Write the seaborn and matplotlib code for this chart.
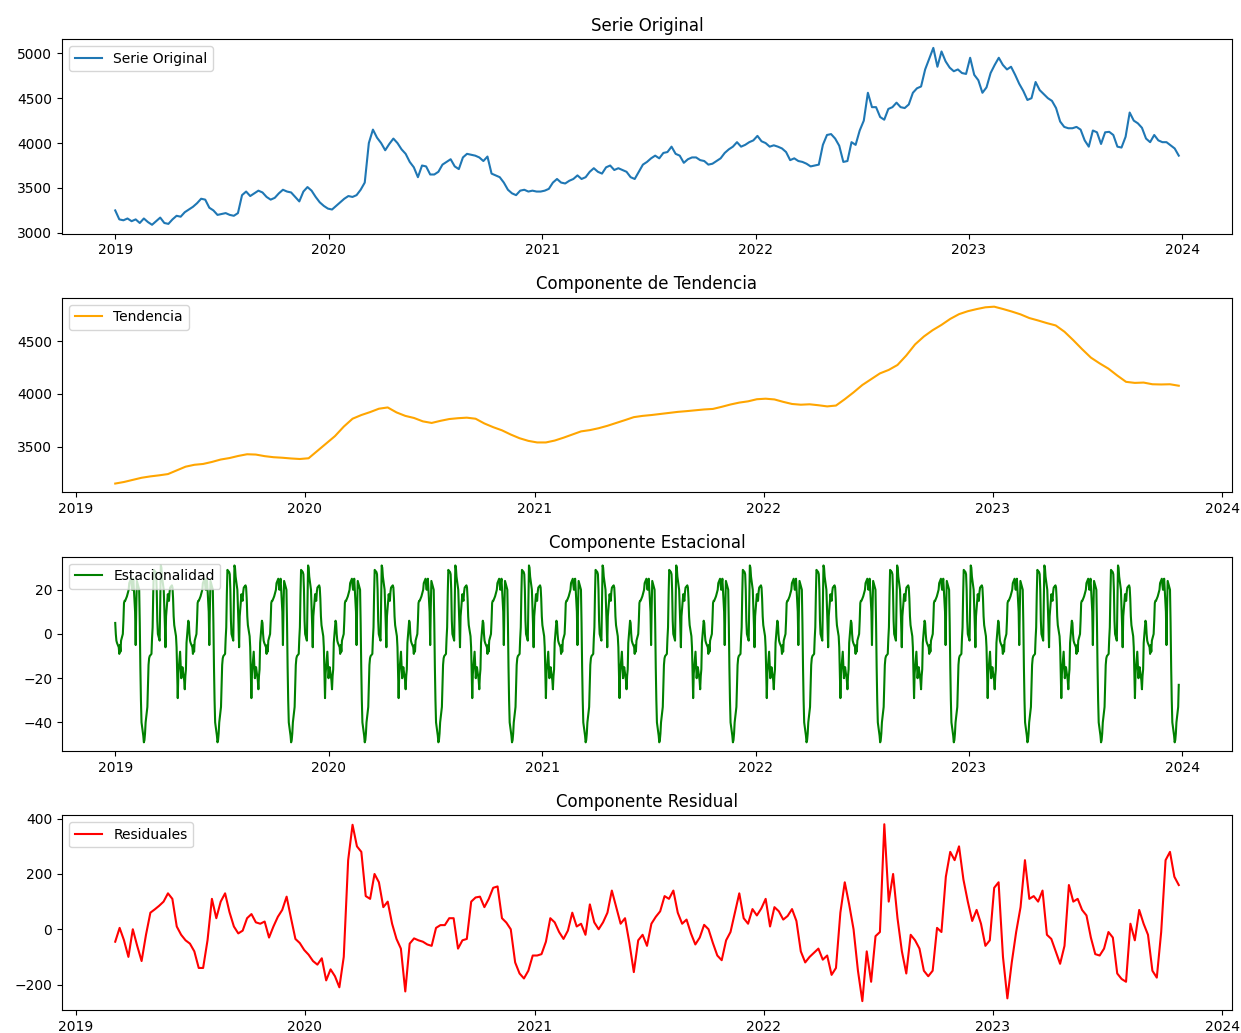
import numpy as np
import pandas as pd
import matplotlib
matplotlib.use("Agg")
import matplotlib.pyplot as plt
import seaborn as sns

# Weekly closing values of the original series (2019-01-01 .. 2023-12-26)
serie_original = [
    # 2019
    3250, 3150, 3140, 3160, 3130, 3150, 3110, 3160, 3120, 3090, 3130, 3170, 3110,
    3100, 3150, 3190, 3180, 3230, 3260, 3290, 3330, 3380, 3370, 3280, 3250, 3200,
    3210, 3220, 3200, 3190, 3220, 3420, 3460, 3410, 3440, 3470, 3450, 3400, 3370,
    3390, 3440, 3480, 3460, 3450, 3400, 3350, 3460, 3510, 3470, 3400, 3340, 3300,
    # 2020
    3270, 3260, 3300, 3340, 3380, 3410, 3400, 3420, 3480, 3560, 4000, 4150, 4060,
    4000, 3920, 3990, 4050, 4000, 3930, 3880, 3790, 3730, 3620, 3750, 3740, 3650,
    3650, 3680, 3760, 3790, 3820, 3740, 3710, 3840, 3880, 3870, 3860, 3840, 3800,
    3850, 3660, 3640, 3620, 3560, 3480, 3440, 3420, 3470, 3480, 3460, 3470, 3460,
    # 2021
    3460, 3470, 3490, 3560, 3600, 3560, 3550, 3580, 3600, 3640, 3600, 3620, 3680,
    3720, 3680, 3660, 3730, 3750, 3700, 3720, 3700, 3680, 3620, 3600, 3680, 3760,
    3790, 3830, 3860, 3830, 3890, 3900, 3960, 3880, 3860, 3780, 3820, 3840, 3840,
    3810, 3800, 3760, 3770, 3800, 3830, 3890, 3930, 3960, 4010, 3960, 3980, 4010,
    # 2022
    4030, 4080, 4020, 4000, 3960, 3975, 3960, 3940, 3900, 3810, 3830, 3800, 3790,
    3770, 3740, 3750, 3760, 3980, 4090, 4100, 4050, 3970, 3790, 3800, 4010, 3980,
    4140, 4250, 4560, 4400, 4400, 4290, 4260, 4380, 4400, 4450, 4400, 4390, 4430,
    4560, 4610, 4630, 4820, 4940, 5060, 4850, 5020, 4910, 4840, 4800, 4820, 4780,
    4770,
    # 2023
    4950, 4760, 4700, 4560, 4620, 4780, 4870, 4950, 4870, 4820, 4850, 4760, 4660,
    4580, 4480, 4500, 4680, 4590, 4545, 4500, 4470, 4390, 4240, 4180, 4165, 4165,
    4180, 4150, 4030, 3960, 4140, 4120, 3990, 4120, 4125, 4090, 3960, 3950, 4070,
    4340, 4250, 4220, 4170, 4050, 4010, 4090, 4030, 4010, 4010, 3975, 3940, 3860,
]

# Trend component, one value every 10 business days from 2019-03-05
tendencia = [
    3150, 3165, 3185, 3205, 3218, 3228, 3240, 3275, 3310, 3328, 3336, 3355, 3378,
    3392, 3412, 3428, 3425, 3410, 3400, 3395, 3388, 3383, 3390, 3460, 3530, 3600,
    3690, 3765, 3800, 3828, 3860, 3872, 3825, 3792, 3772, 3740, 3725, 3745, 3762,
    3770, 3775, 3765, 3720, 3685, 3655, 3615, 3580, 3555, 3540, 3540, 3558, 3585,
    3615, 3645, 3657, 3675, 3698, 3725, 3752, 3780, 3792, 3800, 3810, 3820, 3830,
    3837, 3845, 3853, 3858, 3878, 3900, 3918, 3930, 3950, 3955, 3948, 3925, 3905,
    3898, 3902, 3893, 3882, 3890, 3950, 4015, 4085, 4140, 4195, 4228, 4275, 4365,
    4470, 4545, 4605, 4655, 4712, 4757, 4785, 4805, 4822, 4828, 4806, 4782, 4755,
    4720, 4697, 4672, 4650, 4590, 4510, 4425, 4345, 4290, 4240, 4175, 4115, 4105,
    4108, 4092, 4090, 4092, 4078,
]

# One 90-business-day cycle of the seasonal component, starting 2019-01-01
ciclo_estacional = [
    5, 0, -3, -4, -6, -9, -5, -8, -3, 0, 6, 14, 15, 15, 17, 18, 19, 20, 23, 25,
    22, 20, 23, 25, 10, -5, 12, 24, 23, 20, 5, -15, -30, -40, -46, -49, -48, -45,
    -40, -33, -23, -14, -11, -10, -9, -2, 3, 18, 29, 28, 27, 20, 6, 0, -3, 14, 31,
    30, 26, 20, 12, 4, -6, 8, 18, 16, 15, 19, 21, 22, 21, 16, 8, 4, -1, -6, -18,
    -29, -18, -8, -14, -20, -17, -15, -21, -25, -19, -16, -4, 6,
]

# Residual component, one value every 5 business days from 2019-03-05
residuales = [
    -45, 5, -40, -100, 0, -60, -115, -20, 60, 72, 85, 100, 130, 110, 10, -20,
    -40, -52, -80, -140, -140, -40, 110, 40, 100, 130, 62, 10, -15, -5, 40, 55,
    25, 20, 28, -30, 10, 45, 70, 118, 40, -35, -50, -75, -92, -115, -128, -105,
    -185, -145, -170, -210, -100, 250, 378, 300, 280, 120, 110, 200, 170, 80,
    100, 20, -35, -70, -225, -52, -33, -40, -45, -55, -60, 5, 15, 15, 40, 40,
    -70, -40, -35, 100, 115, 118, 80, 110, 150, 155, 40, 24, 0, -120, -160,
    -178, -150, -95, -95, -90, -45, 40, 25, -10, -35, -5, 60, 10, 20, -20, 90,
    25, 0, 25, 60, 140, 80, 20, 40, -50, -155, -40, -20, -60, 20, 45, 65, 120,
    110, 140, 60, 20, 35, -15, -55, -30, 16, 0, -50, -95, -112, -40, -10, 60,
    130, 40, 20, 73, 50, 75, 110, 10, 80, 65, 35, 48, 73, 30, -80, -120, -100,
    -85, -70, -110, -95, -165, -140, 60, 170, 90, 0, -150, -260, -80, -190, -25,
    -10, 380, 100, 200, 40, -80, -160, -20, -40, -70, -150, -170, -150, 5, -10,
    190, 280, 250, 300, 180, 100, 30, 70, 20, -60, -40, 150, 170, -100, -250,
    -120, -10, 80, 250, 110, 120, 100, 140, -20, -35, -80, -125, -60, 160, 100,
    110, 70, 50, -30, -90, -95, -70, -10, -30, -160, -180, -190, 20, -40, 70,
    20, -20, -150, -175, -10, 250, 280, 190, 160,
]

titulos = ["Serie Original", "Componente de Tendencia",
           "Componente Estacional", "Componente Residual"]
etiquetas = ["Serie Original", "Tendencia", "Estacionalidad", "Residuales"]
colores = ["#1f77b4", "orange", "green", "red"]

# Date axes
dias_habiles = pd.bdate_range("2019-01-01", "2023-12-26")
fechas_original = pd.date_range("2019-01-01", periods=len(serie_original), freq="7D")
fechas_tendencia = dias_habiles[45::10][:len(tendencia)]
fechas_residuales = dias_habiles[45::5][:len(residuales)]
estacional = np.resize(np.array(ciclo_estacional, dtype=float), len(dias_habiles))

series = [
    (fechas_original, serie_original),
    (fechas_tendencia, tendencia),
    (dias_habiles, estacional),
    (fechas_residuales, residuales),
]

fig, axes = plt.subplots(4, 1, figsize=(12.41, 10.33), dpi=100)
fig.subplots_adjust(left=0.05, right=0.9927, top=0.9622, bottom=0.0223, hspace=0.33)

for ax, (x, y), titulo, etiqueta, color in zip(axes, series, titulos, etiquetas, colores):
    sns.lineplot(x=x, y=y, ax=ax, color=color, label=etiqueta, linewidth=1.5)
    ax.set_title(titulo, fontsize=12)
    ax.set_xlabel("")
    ax.set_ylabel("")
    ax.legend(loc="upper left", fontsize=10)
    ax.tick_params(labelsize=10)

fig.savefig("out.png", dpi=100)
